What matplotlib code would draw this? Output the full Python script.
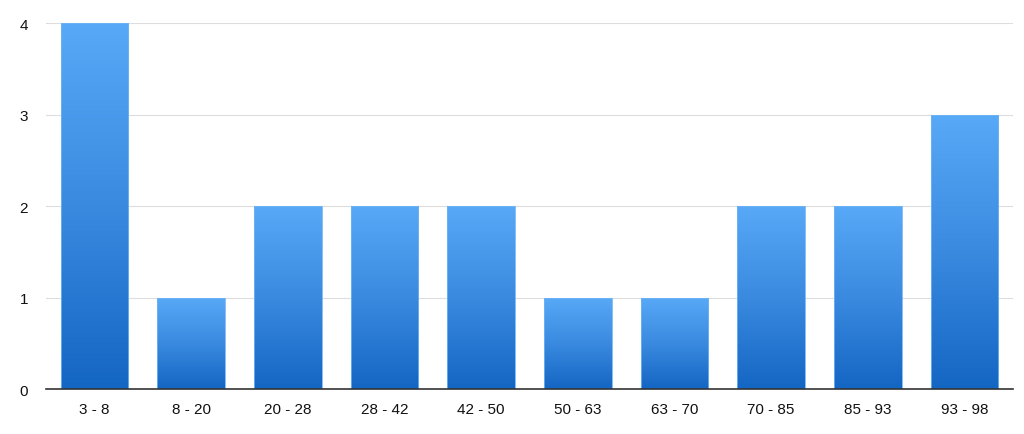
import matplotlib
matplotlib.use("Agg")
import matplotlib.pyplot as plt
import numpy as np
from matplotlib.colors import LinearSegmentedColormap

# histogram bins and counts
bins = ["3 - 8", "8 - 20", "20 - 28", "28 - 42", "42 - 50",
        "50 - 63", "63 - 70", "70 - 85", "85 - 93", "93 - 98"]
counts = [4, 1, 2, 2, 2, 1, 1, 2, 2, 3]
y_ticks = [0, 1, 2, 3, 4]

plt.rcParams["font.family"] = ["Liberation Sans", "DejaVu Sans"]

fig = plt.figure(figsize=(10.24, 4.35), dpi=100)
ax = fig.add_axes([0.045, 0.1034, 0.944, 0.8414])

# vertical gradient, light on top, dark at bottom
cmap = LinearSegmentedColormap.from_list("bar", ["#1466c3", "#3a8ae0", "#58a9f7"])
grad = np.linspace(0, 1, 256).reshape(-1, 1)

x = np.arange(len(bins))
width = 0.70
bars = ax.bar(x, counts, width=width, color="none", edgecolor="#6fb4f5",
              linewidth=0.6, zorder=3)
for b in bars:
    x0, y0 = b.get_x(), b.get_y()
    w, h = b.get_width(), b.get_height()
    im = ax.imshow(grad, extent=[x0, x0 + w, y0, y0 + h], origin="lower",
                   cmap=cmap, aspect="auto", zorder=2)
    im.set_clip_path(b)

ax.set_xlim(-0.5, len(bins) - 0.5)
ax.set_ylim(0, 4)
ax.set_xticks(x)
ax.set_xticklabels(bins, fontsize=11, color="#111111")
ax.set_yticks(y_ticks)
ax.set_yticklabels([str(v) for v in y_ticks], fontsize=11, color="#111111")
ax.tick_params(axis="both", length=0)
ax.tick_params(axis="x", pad=9)
ax.tick_params(axis="y", pad=13)

ax.grid(axis="y", color="#dddddd", linewidth=0.8, zorder=0)
ax.set_axisbelow(True)
for s in ["top", "right", "left"]:
    ax.spines[s].set_visible(False)
ax.spines["bottom"].set_color("#333333")
ax.spines["bottom"].set_linewidth(1.2)
ax.spines["bottom"].set_zorder(4)

fig.savefig("out.png", dpi=100)
